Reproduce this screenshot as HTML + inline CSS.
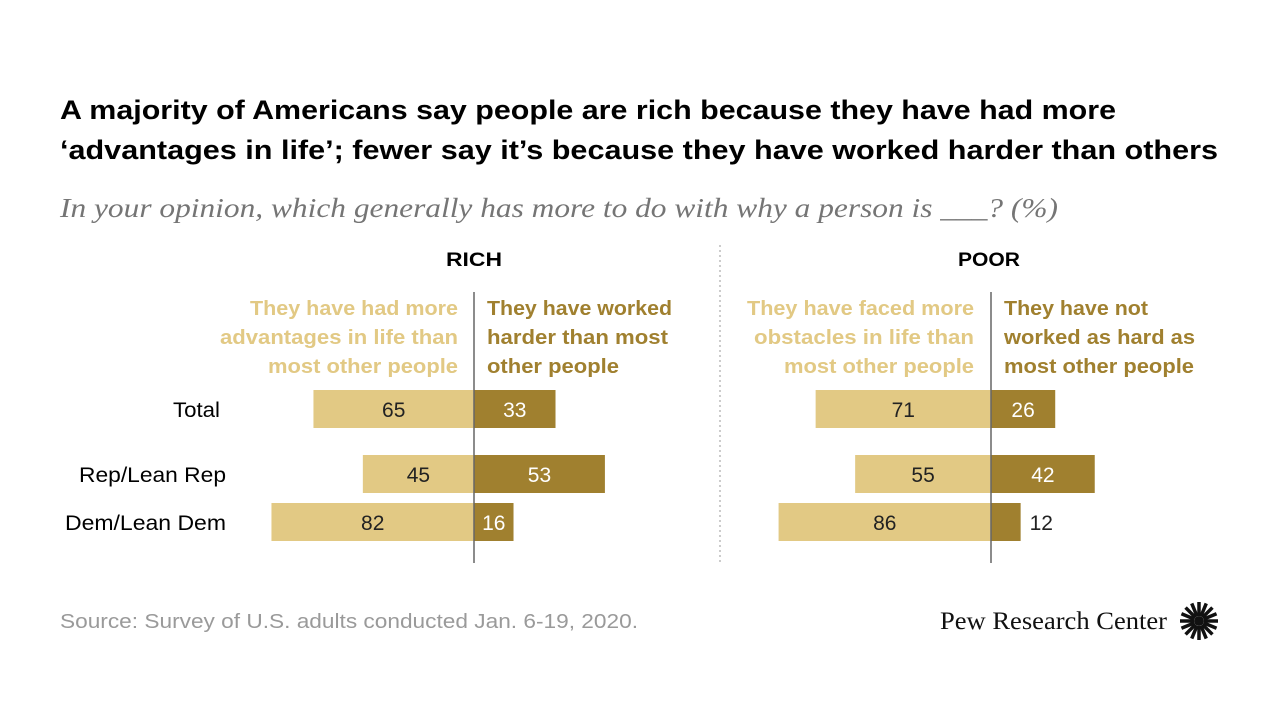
<!DOCTYPE html>
<html><head><meta charset="utf-8"><style>
body{margin:0;background:#fff;width:1280px;height:720px;overflow:hidden;font-family:"Liberation Sans",sans-serif}
svg{display:block}
</style></head><body>
<svg width="1280" height="720" id="c">
<text x="60" y="119" font-size="27" font-weight="bold" fill="#000" textLength="1056" lengthAdjust="spacingAndGlyphs">A majority of Americans say people are rich because they have had more</text>
<text x="60" y="159" font-size="27" font-weight="bold" fill="#000" textLength="1158" lengthAdjust="spacingAndGlyphs">‘advantages in life’; fewer say it’s because they have worked harder than others</text>
<text x="60" y="217" font-size="27" font-style="italic" font-family="Liberation Serif,serif" fill="#757575" textLength="998" lengthAdjust="spacingAndGlyphs">In your opinion, which generally has more to do with why a person is ___? (%)</text>
<line x1="720" y1="245" x2="720" y2="562" stroke="#999" stroke-dasharray="2,3"/>
<text x="474" y="266" font-size="19" font-weight="bold" text-anchor="middle" textLength="56" lengthAdjust="spacingAndGlyphs">RICH</text>
<text x="989" y="266" font-size="19" font-weight="bold" text-anchor="middle" textLength="62" lengthAdjust="spacingAndGlyphs">POOR</text>
<g font-size="20" font-weight="bold" fill="#e2c984" text-anchor="end">
<text x="458" y="315" textLength="208" lengthAdjust="spacingAndGlyphs">They have had more</text><text x="458" y="344" textLength="238" lengthAdjust="spacingAndGlyphs">advantages in life than</text><text x="458" y="373" textLength="190" lengthAdjust="spacingAndGlyphs">most other people</text></g>
<g font-size="20" font-weight="bold" fill="#a0802f">
<text x="487" y="315" textLength="185" lengthAdjust="spacingAndGlyphs">They have worked</text><text x="487" y="344" textLength="181" lengthAdjust="spacingAndGlyphs">harder than most</text><text x="487" y="373" textLength="132" lengthAdjust="spacingAndGlyphs">other people</text></g>
<g font-size="20" font-weight="bold" fill="#e2c984" text-anchor="end">
<text x="974" y="315" textLength="227" lengthAdjust="spacingAndGlyphs">They have faced more</text><text x="974" y="344" textLength="220" lengthAdjust="spacingAndGlyphs">obstacles in life than</text><text x="974" y="373" textLength="190" lengthAdjust="spacingAndGlyphs">most other people</text></g>
<g font-size="20" font-weight="bold" fill="#a0802f">
<text x="1004" y="315" textLength="144" lengthAdjust="spacingAndGlyphs">They have not</text><text x="1004" y="344" textLength="191" lengthAdjust="spacingAndGlyphs">worked as hard as</text><text x="1004" y="373" textLength="190" lengthAdjust="spacingAndGlyphs">most other people</text></g>
<g id="bars"></g>
<text x="60" y="628" font-size="20" fill="#9a9a9a" textLength="578" lengthAdjust="spacingAndGlyphs">Source: Survey of U.S. adults conducted Jan. 6-19, 2020.</text>
<text x="940" y="629" font-size="25" font-family="Liberation Serif,serif" fill="#111" textLength="227" lengthAdjust="spacingAndGlyphs">Pew Research Center</text>
<g id="logo" transform="translate(1199,621)"></g>
</svg>
<script>
const categories=["Total","Rep/Lean Rep","Dem/Lean Dem"];
const richLeft=[65,45,82];
const richRight=[33,53,16];
const poorLeft=[71,55,86];
const poorRight=[26,42,12];
const NS="http://www.w3.org/2000/svg";
const scale=2.47, rowY=[390,455,503], barH=38;
const labelW=[47,147,161];
const g=document.getElementById('bars');
function mk(t,a){const e=document.createElementNS(NS,t);for(const k in a)e.setAttribute(k,a[k]);g.appendChild(e);return e;}
categories.forEach((c,i)=>{
  const t=mk('text',{x:i==0?220:226,y:rowY[i]+27,'font-size':21,'text-anchor':'end',fill:'#000',textLength:labelW[i],lengthAdjust:'spacingAndGlyphs'});t.textContent=c;
  
  
});
function panel(cx,L,R,name){
  L.forEach((v,i)=>{
    const w=v*scale;
    const r=mk('rect',{x:cx-w,y:rowY[i],width:w,height:barH,fill:'#e2c984'});
    
    
    const t=mk('text',{x:cx-w/2,y:rowY[i]+27,'font-size':21,'text-anchor':'middle',fill:'#222'});t.textContent=v;
    
    
  });
  R.forEach((v,i)=>{
    const w=v*scale;
    const r=mk('rect',{x:cx,y:rowY[i],width:w,height:barH,fill:'#a0802f'});
    
    
    const inside=w>38;
    const t=mk('text',{x:inside?cx+w/2:cx+w+9,y:rowY[i]+27,'font-size':21,'text-anchor':inside?'middle':'start',fill:inside?'#fff':'#222'});t.textContent=v;
    
    
  });
  const l=mk('line',{x1:cx,y1:292,x2:cx,y2:563,stroke:'#666','stroke-width':1.5});
  
  
}
panel(474,richLeft,richRight,'rich');
panel(991,poorLeft,poorRight,'poor');
const lg=document.getElementById('logo');
for(let k=0;k<16;k++){const a=k*Math.PI/8;const e=document.createElementNS(NS,'line');
e.setAttribute('x1',5*Math.cos(a));e.setAttribute('y1',5*Math.sin(a));e.setAttribute('x2',19*Math.cos(a));e.setAttribute('y2',19*Math.sin(a));
e.setAttribute('stroke','#111');e.setAttribute('stroke-width',3.5);lg.appendChild(e);}
const cc=document.createElementNS(NS,'circle');cc.setAttribute('r',5);cc.setAttribute('fill','#111');lg.appendChild(cc);
</script>
</body></html>
